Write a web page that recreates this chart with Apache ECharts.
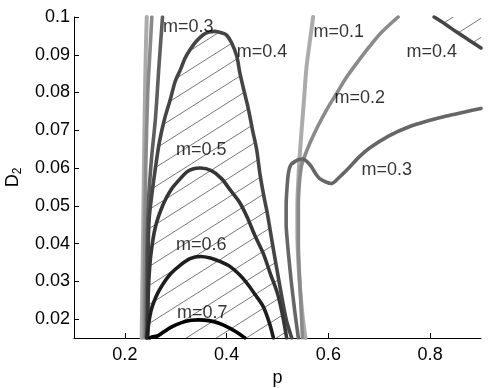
<!DOCTYPE html>
<html>
<head>
<meta charset="utf-8">
<script src="https://cdn.jsdelivr.net/npm/echarts@6/dist/echarts.min.js"></script>
<style>html,body{margin:0;padding:0;background:#fff;}#c{width:501px;height:388px;}</style>
</head>
<body>
<div id="c"></div>
<script>
// ---- data (p, D2) ----
const xTicks = [0.2, 0.4, 0.6, 0.8];
const yTicks = [0.02, 0.03, 0.04, 0.05, 0.06, 0.07, 0.08, 0.09, 0.1];

const m01Left = [[0.233,0.015],[0.235,0.035],[0.237,0.055],[0.239,0.075],[0.241,0.09],[0.243,0.1]];
const m02Left = [[0.238,0.015],[0.239,0.04],[0.241,0.06],[0.245,0.08],[0.249,0.09],[0.253,0.1]];
const m03Left = [[0.242,0.015],[0.243,0.035],[0.246,0.05],[0.252,0.062],[0.26,0.073],[0.267,0.087],[0.274,0.1]];
const m04Hump = [[0.245,0.015],[0.245,0.03],[0.246,0.04],[0.248,0.047],[0.253,0.053],[0.26,0.06],[0.268,0.067],[0.278,0.073],[0.289,0.078],[0.299,0.083],[0.309,0.086],[0.318,0.089],[0.328,0.0913],[0.34,0.0935],[0.354,0.0953],[0.365,0.096],[0.377,0.0962],[0.39,0.0958],[0.40,0.0952],[0.41,0.0931],[0.42,0.0896],[0.426,0.0852],[0.435,0.08],[0.443,0.0755],[0.451,0.07],[0.459,0.0649],[0.466,0.058],[0.474,0.052],[0.48,0.048],[0.49,0.04],[0.503,0.03],[0.517,0.02],[0.528,0.015]];
const m05Hump = [[0.244,0.015],[0.245,0.022],[0.247,0.03],[0.251,0.037],[0.26,0.0444],[0.276,0.0506],[0.292,0.0545],[0.309,0.0572],[0.322,0.059],[0.335,0.0598],[0.348,0.06],[0.37,0.0593],[0.39,0.0572],[0.407,0.0542],[0.425,0.051],[0.44,0.0471],[0.456,0.042],[0.472,0.0374],[0.486,0.032],[0.50,0.0268],[0.51,0.021],[0.518,0.015]];
const m06Hump = [[0.2435,0.015],[0.247,0.019],[0.251,0.022],[0.256,0.0242],[0.265,0.027],[0.276,0.0295],[0.29,0.032],[0.309,0.0343],[0.328,0.036],[0.348,0.0366],[0.368,0.0362],[0.388,0.0352],[0.407,0.0339],[0.425,0.0318],[0.44,0.0295],[0.456,0.0265],[0.472,0.0233],[0.484,0.019],[0.492,0.015]];
const m07Hump = [[0.249,0.015],[0.253,0.0153],[0.265,0.0156],[0.275,0.0165],[0.29,0.0178],[0.31,0.019],[0.33,0.0197],[0.345,0.0198],[0.365,0.0196],[0.385,0.0189],[0.405,0.0177],[0.42,0.0165],[0.43,0.0156],[0.436,0.015]];
const m01Right = [[0.57,0.1],[0.563,0.093],[0.557,0.0867],[0.552,0.078],[0.547,0.0693],[0.543,0.062],[0.541,0.057],[0.539,0.05],[0.539,0.043],[0.541,0.035],[0.545,0.027],[0.55,0.02],[0.555,0.015]];
const m02Right = [[0.737,0.1],[0.705,0.096],[0.681,0.0922],[0.657,0.088],[0.636,0.0841],[0.615,0.0795],[0.596,0.0753],[0.579,0.071],[0.564,0.0667],[0.553,0.063],[0.547,0.0605],[0.543,0.056],[0.541,0.05],[0.541,0.04],[0.543,0.032],[0.546,0.024],[0.549,0.015]];
const m03Right = [[0.9,0.0758],[0.866,0.0748],[0.832,0.0738],[0.796,0.0725],[0.76,0.071],[0.72,0.0686],[0.681,0.0653],[0.66,0.0629],[0.642,0.0603],[0.625,0.058],[0.615,0.0567],[0.606,0.0559],[0.595,0.0563],[0.583,0.0572],[0.575,0.0585],[0.567,0.0603],[0.558,0.0617],[0.55,0.0624],[0.541,0.0622],[0.534,0.0617],[0.527,0.061],[0.523,0.0597],[0.52,0.057],[0.517,0.05],[0.517,0.045],[0.521,0.038],[0.527,0.03],[0.534,0.022],[0.541,0.015]];
const m04Right = [[0.808,0.1],[0.83,0.0981],[0.85,0.0962],[0.875,0.094],[0.9,0.0918]];
const cornerTR = [0.9, 0.1];

const labels = [
  [0.3245,0.0974,'m=0.3'],[0.4696,0.0908,'m=0.4'],[0.35,0.0649,'m=0.5'],
  [0.35,0.0395,'m=0.6'],[0.352,0.0215,'m=0.7'],[0.6206,0.0961,'m=0.1'],
  [0.6618,0.0786,'m=0.2'],[0.7147,0.0596,'m=0.3'],[0.803,0.0908,'m=0.4']
];

// ---- hatch pattern ----
const HW = 30, HH = 19;
const pc = document.createElement('canvas');
pc.width = HW; pc.height = HH;
const g = pc.getContext('2d');
g.strokeStyle = '#555'; g.lineWidth = 0.8;
for (let i = -1; i <= 1; i++) for (let j = -1; j <= 1; j++) {
  g.beginPath(); g.moveTo(i*HW, HH + j*HH); g.lineTo(HW + i*HW, j*HH); g.stroke();
}
const hatch = {image: pc, repeat: 'repeat'};

function hatchSeries(pts) {
  return {
    type: 'custom', z: 1, data: [0], silent: true,
    renderItem: function (params, api) {
      const points = pts.map(d => api.coord(d));
      return {type: 'polygon', shape: {points: points}, style: {fill: hatch, stroke: null}};
    }
  };
}
function curve(data, color, w, sm) {
  return {type: 'line', data: data, showSymbol: false, symbol: 'none', smooth: sm == null ? 0.3 : sm, z: 3,
    lineStyle: {color: color, width: w || 3.6, cap: 'round', join: 'round'}, silent: true};
}

const font = "'Liberation Sans', Arial, Helvetica, sans-serif";
const chart = echarts.init(document.getElementById('c'), null, {renderer: 'canvas'});
chart.setOption({
  animation: false,
  backgroundColor: '#fff',
  grid: {left: 74, right: 20, top: 17, bottom: 50, containLabel: false, outerBoundsMode: 'none'},
  xAxis: {
    type: 'value', min: 0.1, max: 0.9,
    name: 'p', nameLocation: 'middle', nameGap: 15,
    nameTextStyle: {fontFamily: font, fontSize: 18, color: '#000'},
    axisLine: {show: true, lineStyle: {color: '#000', width: 1}},
    axisTick: {show: true, inside: true, length: 5, customValues: xTicks, lineStyle: {color: '#000'}},
    axisLabel: {customValues: xTicks, margin: 8, fontFamily: font, fontSize: 18, color: '#000',
      formatter: v => String(+(+v).toFixed(2))},
    splitLine: {show: false}
  },
  yAxis: {
    type: 'value', min: 0.015, max: 0.1,
    name: 'D{s|2}', nameLocation: 'middle', nameGap: 49,
    nameTextStyle: {fontFamily: font, fontSize: 18, color: '#000',
      rich: {s: {fontFamily: font, fontSize: 12, color: '#000', verticalAlign: 'bottom', padding: [10,0,0,0]}}},
    axisLine: {show: true, lineStyle: {color: '#000', width: 1}},
    axisTick: {show: true, inside: true, length: 5, customValues: yTicks, lineStyle: {color: '#000'}},
    axisLabel: {customValues: yTicks, margin: 4, fontFamily: font, fontSize: 18, color: '#000',
      formatter: v => String(+(+v).toFixed(2))},
    splitLine: {show: false}
  },
  series: [
    hatchSeries(m04Hump),
    hatchSeries(m04Right.concat([cornerTR])),
    curve(m01Left, '#ababab', 4),
    curve(m02Left, '#8a8a8a', 3.6),
    curve(m03Left, '#5e5e5e'),
    curve(m01Right, '#ababab', 4),
    curve(m02Right, '#8a8a8a'),
    curve(m03Right, '#666666', 3.6, 0.15),
    curve(m04Right, '#454545'),
    curve(m04Hump, '#454545'),
    curve(m05Hump, '#363636'),
    curve(m06Hump, '#1e1e1e'),
    curve(m07Hump, '#000000'),
    {
      type: 'scatter', symbolSize: 0, z: 5, silent: true,
      data: labels.map(l => ({value: [l[0], l[1]], name: l[2]})),
      label: {show: true, position: 'inside', formatter: p => p.name,
        fontFamily: font, fontSize: 18, color: '#000'}
    }
  ]
});
</script>
</body>
</html>
